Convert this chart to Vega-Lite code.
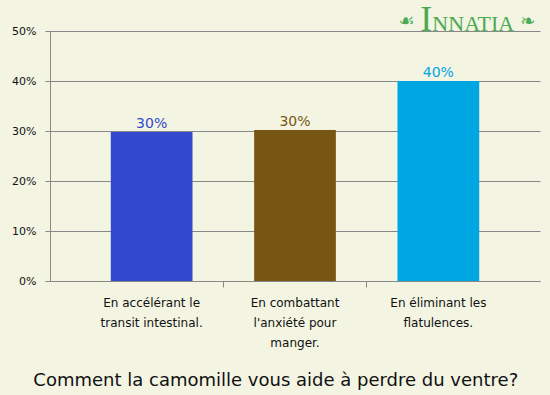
{
  "$schema": "https://vega.github.io/schema/vega-lite/v6.json",
  "width": 490,
  "height": 250,
  "autosize": {"type": "none"},
  "padding": {"left": 50, "top": 31, "right": 10, "bottom": 114},
  "background": "#f3f4e2",
  "config": {
    "font": "DejaVu Sans",
    "view": {"stroke": null}
  },
  "title": {
    "text": "Comment la camomille vous aide à perdre du ventre?",
    "orient": "bottom",
    "anchor": "middle",
    "frame": "bounds",
    "fontSize": 18,
    "fontWeight": "normal",
    "font": "DejaVu Sans",
    "color": "#111111",
    "offset": 24
  },
  "data": {
    "values": [
      {"reponse": "En accélérant le transit intestinal.", "pct": 0.298, "couleur": "#3349cd"},
      {"reponse": "En combattant l'anxiété pour manger.", "pct": 0.302, "couleur": "#775614"},
      {"reponse": "En éliminant les flatulences.", "pct": 0.400, "couleur": "#00a6e2"}
    ]
  },
  "encoding": {
    "x": {
      "field": "reponse",
      "type": "nominal",
      "sort": null,
      "scale": {"paddingInner": 0, "paddingOuter": 0.209},
      "axis": {
        "title": null,
        "labelAngle": 0,
        "labelFontSize": 12,
        "labelColor": "#111111",
        "labelLineHeight": 20,
        "labelPadding": 10,
        "labelBaseline": "top",
        "labelExpr": "datum.label == 'En accélérant le transit intestinal.' ? ['En accélérant le', 'transit intestinal.'] : datum.label == \"En combattant l'anxiété pour manger.\" ? ['En combattant', \"l'anxiété pour\", 'manger.'] : ['En éliminant les', 'flatulences.']",
        "bandPosition": 0,
        "ticks": true,
        "tickSize": 6,
        "tickColor": "#888888",
        "tickOpacity": {"condition": {"test": "datum.index === 0", "value": 0}, "value": 1},
        "domainColor": "#888888",
        "grid": false
      }
    }
  },
  "layer": [
    {
      "mark": {"type": "bar", "width": {"band": 0.57}},
      "encoding": {
        "y": {
          "field": "pct",
          "type": "quantitative",
          "scale": {"domain": [0, 0.5]},
          "axis": {
            "title": null,
            "values": [0, 0.1, 0.2, 0.3, 0.4, 0.5],
            "format": ".0%",
            "labelFontSize": 11,
            "labelColor": "#111111",
            "labelPadding": 9,
            "tickSize": 5,
            "tickColor": "#888888",
            "domainColor": "#888888",
            "gridColor": "#888888",
            "gridOpacity": 1
          }
        },
        "color": {"field": "couleur", "type": "nominal", "scale": null}
      }
    },
    {
      "mark": {"type": "text", "baseline": "bottom", "dy": -1, "fontSize": 14},
      "encoding": {
        "y": {"field": "pct", "type": "quantitative"},
        "text": {"field": "pct", "type": "quantitative", "format": ".0%"},
        "color": {"field": "couleur", "type": "nominal", "scale": null}
      }
    },
    {
      "data": {"values": [{"logo": "I"}]},
      "mark": {"type": "text", "font": "Liberation Serif", "fontSize": 36, "color": "#4caa52", "align": "left", "baseline": "alphabetic", "dx": -18, "dy": 0},
      "encoding": {
        "x": {"datum": "En éliminant les flatulences."},
        "y": {"datum": 0.5},
        "text": {"field": "logo"}
      }
    },
    {
      "data": {"values": [{"logo": "NNATIA"}]},
      "mark": {"type": "text", "font": "Liberation Serif", "fontSize": 22, "color": "#4caa52", "align": "left", "baseline": "alphabetic", "dx": -6, "dy": 0},
      "encoding": {
        "x": {"datum": "En éliminant les flatulences."},
        "y": {"datum": 0.5},
        "text": {"field": "logo"}
      }
    },
    {
      "data": {"values": [{"logo": "☙"}]},
      "mark": {"type": "text", "font": "DejaVu Sans", "fontSize": 18, "color": "#4caa52", "align": "left", "baseline": "alphabetic", "dx": -40, "dy": -4},
      "encoding": {
        "x": {"datum": "En éliminant les flatulences."},
        "y": {"datum": 0.5},
        "text": {"field": "logo"}
      }
    },
    {
      "data": {"values": [{"logo": "❧"}]},
      "mark": {"type": "text", "font": "DejaVu Sans", "fontSize": 18, "color": "#4caa52", "align": "left", "baseline": "alphabetic", "dx": 82, "dy": -4},
      "encoding": {
        "x": {"datum": "En éliminant les flatulences."},
        "y": {"datum": 0.5},
        "text": {"field": "logo"}
      }
    }
  ]
}
